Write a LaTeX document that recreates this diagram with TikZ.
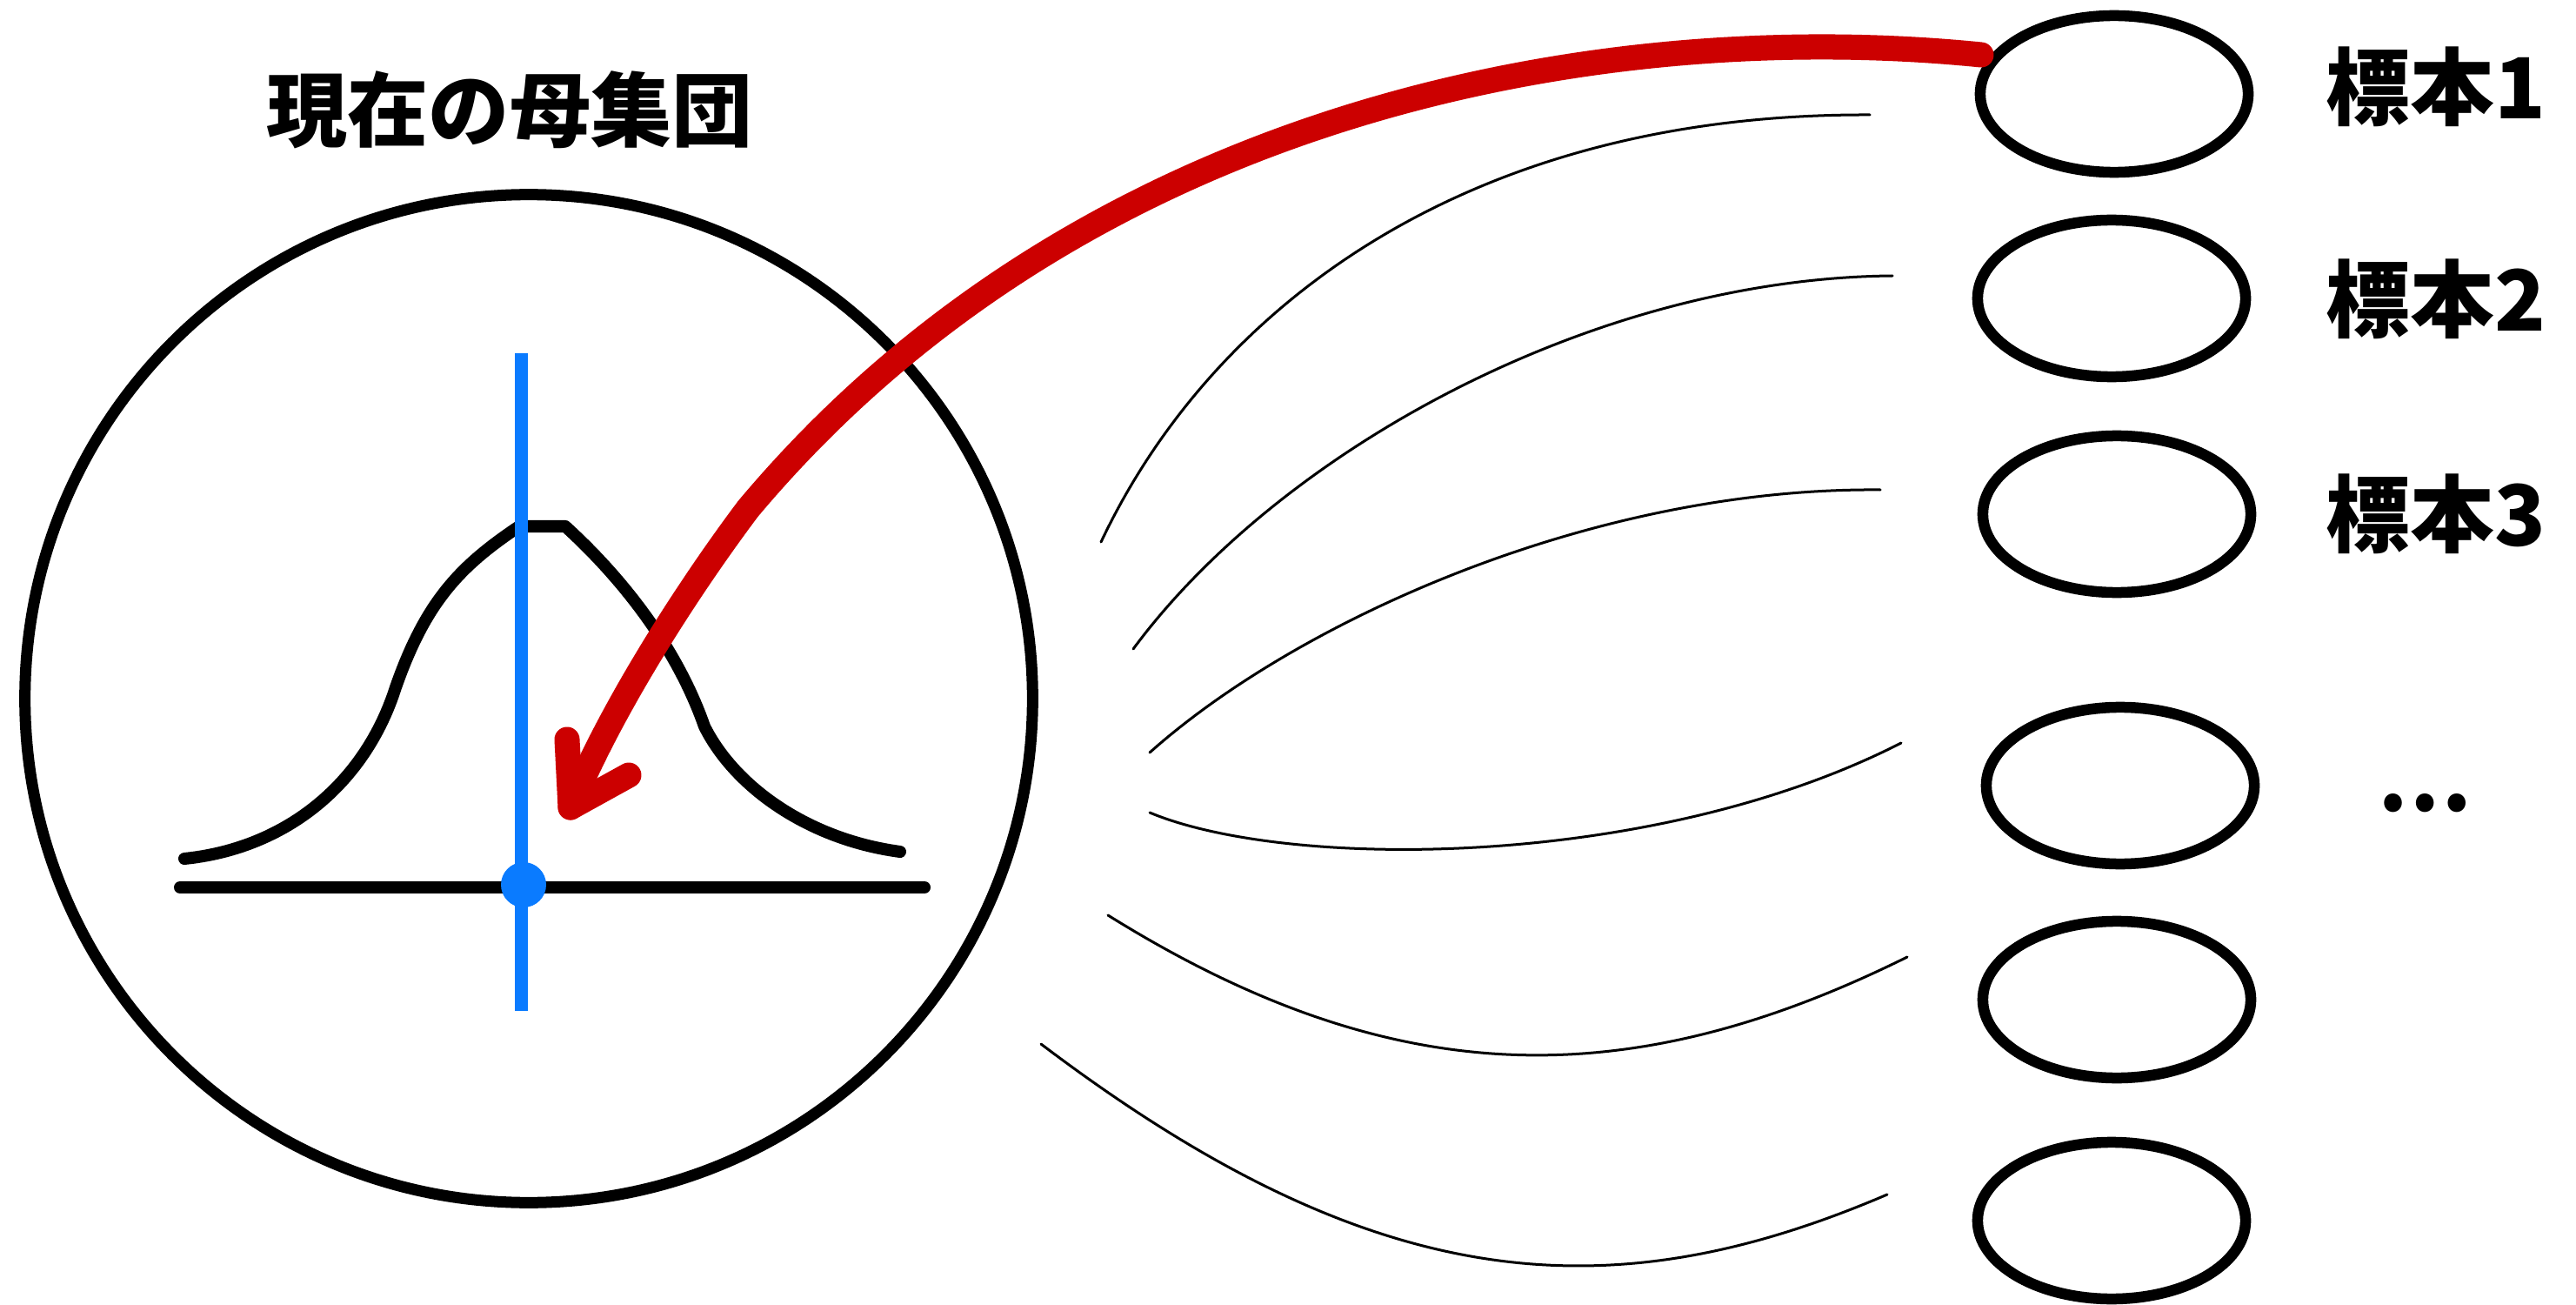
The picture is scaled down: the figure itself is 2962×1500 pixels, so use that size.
\documentclass[tikz,border=0pt]{standalone}
\usepackage{fontspec}
\usepackage{graphicx}
\usetikzlibrary{shapes.geometric}
\newfontfamily\jp{Noto Sans CJK JP}
\definecolor{redc}{HTML}{CC0000}
\definecolor{bluec}{HTML}{0A7BFF}
\begin{document}
\begin{tikzpicture}[x=0.01cm,y=-0.01cm,
  blackline/.style={line width=0.14cm, line cap=round, line join=round},
  thinline/.style={line width=0.03cm, line cap=round},
  redline/.style={draw=redc, line width=0.29cm, line cap=round, line join=round},
  blueline/.style={draw=bluec, line width=0.15cm},
  sampleell/.style={draw, ellipse, line width=0.125cm, minimum width=3.08cm, minimum height=1.8cm, inner sep=0pt},
  popcircle/.style={draw, circle, line width=0.13cm, minimum size=11.58cm, inner sep=0pt},
  titletext/.style={font=\jp\bfseries\fontsize{26.5pt}{30pt}\selectfont, inner sep=0pt},
  labeltext/.style={font=\jp\bfseries\fontsize{27.5pt}{32pt}\selectfont, inner sep=0pt, anchor=west}]
\useasboundingbox (0,0) rectangle (2962,1500);
\fill[white] (0,0) rectangle (2962,1500);

% population circle and title
\node[popcircle] (pop) at (608,803) {};
\node[titletext] (title) at (586,126) {現在の母集団};

% bell curve
\draw[blackline] (212,987) .. controls (330,975) and (420,900) .. (455,790)
  .. controls (490,690) and (530,650) .. (597,605) -- (650,605)
  .. controls (705,655) and (775,735) .. (810,835)
  .. controls (845,905) and (930,965) .. (1035,979);
\draw[blackline] (207,1020) -- (1063,1020);
\draw[blueline] (599,406) -- (599,1162);
\fill[bluec] (602,1017) circle (26);

% sample ellipses
\node[sampleell] (e1) at (2431,108) {};
\node[sampleell] (e2) at (2428,343) {};
\node[sampleell] (e3) at (2434,591) {};
\node[sampleell] (e4) at (2438,903) {};
\node[sampleell] (e5) at (2434,1149) {};
\node[sampleell] (e6) at (2428,1403) {};

% labels
\node[labeltext] (l1) at (2674,100) {標本1};
\node[labeltext] (l2) at (2674,344) {標本2};
\node[labeltext] (l3) at (2674,591) {標本3};
\node[font=\jp\bfseries\fontsize{27.5pt}{32pt}\selectfont, inner sep=0pt, anchor=base] (ldots) at (2788,932) {…};

% thin sampling curves
\coordinate (a1) at (1266,623); \coordinate (b1) at (2150,132);
\coordinate (a2) at (1303,746); \coordinate (b2) at (2176,317);
\coordinate (a3) at (1322,865); \coordinate (b3) at (2162,563);
\coordinate (a4) at (1322,934); \coordinate (b4) at (2186,854);
\coordinate (a5) at (1274,1052); \coordinate (b5) at (2193,1100);
\coordinate (a6) at (1197,1200); \coordinate (b6) at (2170,1373);
\draw[thinline] (a1) .. controls (1395,350) and (1690,130) .. (b1);
\draw[thinline] (a2) .. controls (1470,520) and (1830,320) .. (b2);
\draw[thinline] (a3) .. controls (1490,715) and (1830,560) .. (b3);
\draw[thinline] (a4) .. controls (1480,1000) and (1900,1000) .. (b4);
\draw[thinline] (a5) .. controls (1600,1255) and (1870,1260) .. (b5);
\draw[thinline] (a6) .. controls (1580,1490) and (1850,1510) .. (b6);

% red arrow
\coordinate (rs) at (2278,63);
\coordinate (rk) at (860,585);
\coordinate (tip) at (656,928);
\coordinate (barbl) at (652,850);
\coordinate (barbr) at (723,891);
\draw[redline] (rs) .. controls (1850,20) and (1250,120) .. (rk)
  .. controls (785,685) and (700,820) .. (tip);
\draw[redline] (barbl) -- (tip) -- (barbr);
\end{tikzpicture}
\end{document}
